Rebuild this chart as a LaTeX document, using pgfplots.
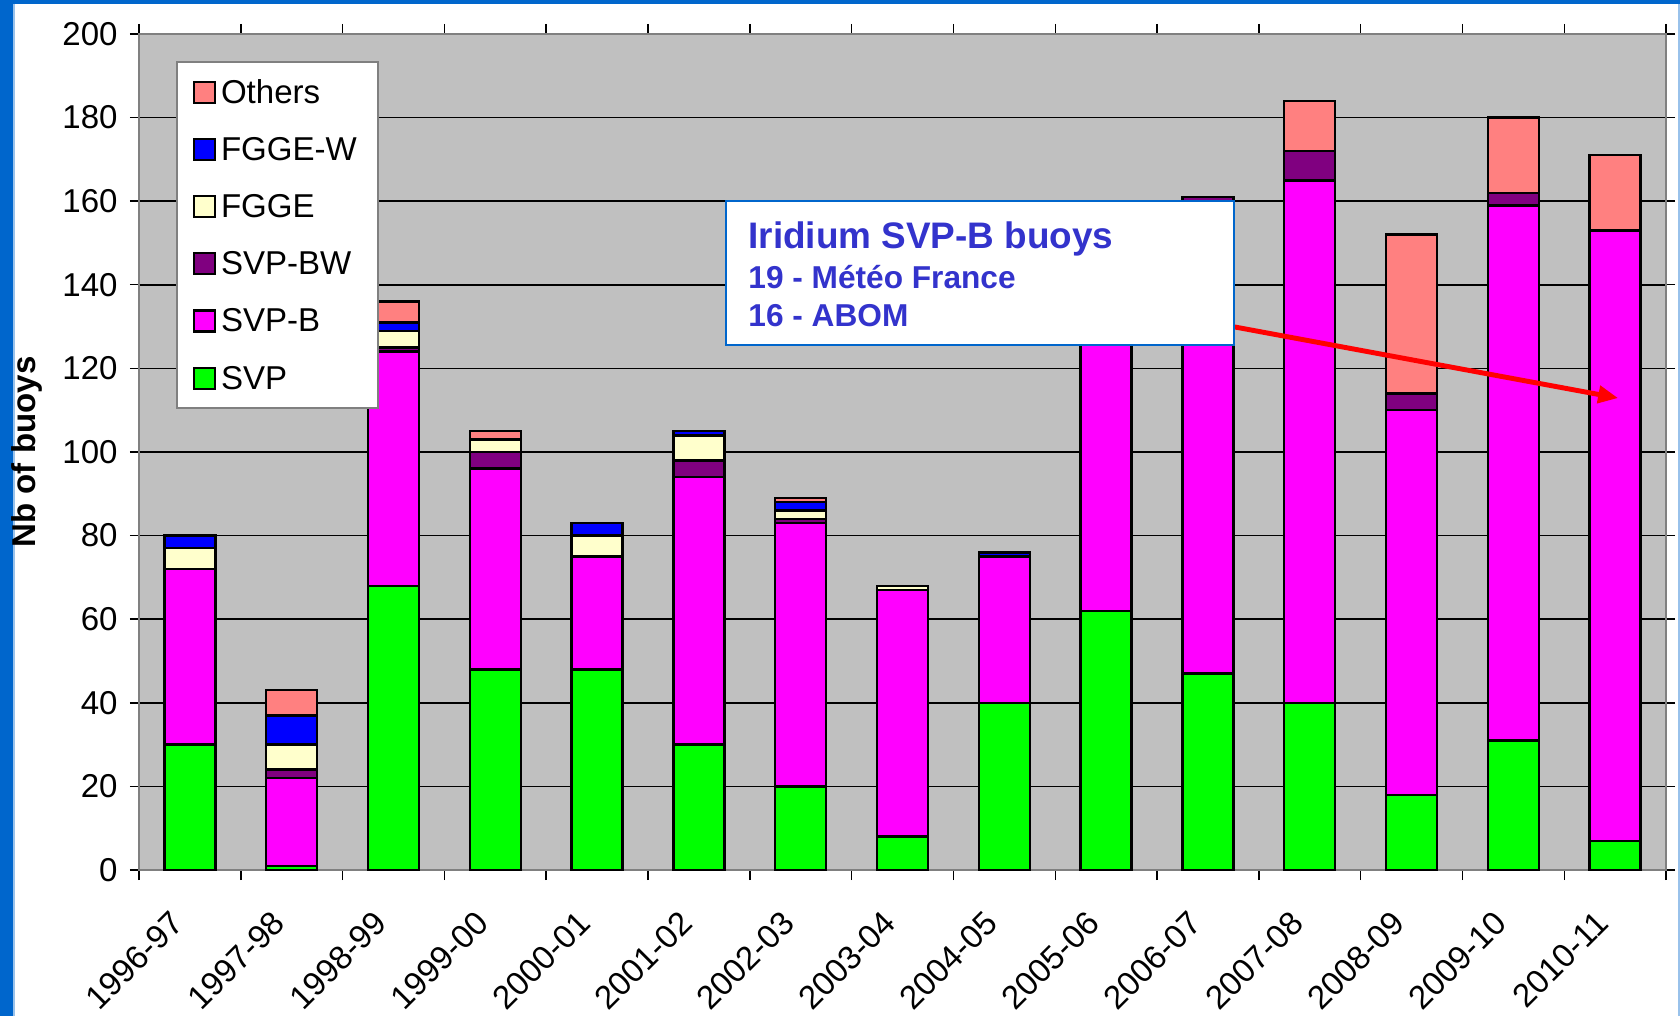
\documentclass[border=0pt]{standalone}
\usepackage{pgfplots}
\pgfplotsset{compat=1.18}
\usepackage{fontspec}
\setmainfont{Liberation Sans}
\usetikzlibrary{arrows.meta}

\definecolor{slideblue}{RGB}{0,102,204}
\definecolor{plotgray}{RGB}{192,192,192}
\definecolor{framegray}{RGB}{128,128,128}
\definecolor{cSVP}{RGB}{0,255,0}
\definecolor{cSVPB}{RGB}{255,0,255}
\definecolor{cSVPBW}{RGB}{128,0,128}
\definecolor{cFGGE}{RGB}{255,255,204}
\definecolor{cFGGEW}{RGB}{0,0,255}
\definecolor{cOthers}{RGB}{255,128,128}
\definecolor{notetext}{RGB}{51,51,204}

\begin{document}
\begin{tikzpicture}
\fill[white] (0,0) rectangle (16.8,10.16);
\fill[slideblue] (0,0) rectangle (0.125,10.16);
\fill[slideblue] (0,10.12) rectangle (16.8,10.16);
\draw[slideblue!40, line width=0.4pt] (0.14,0) -- (0.14,10.12);
\draw[slideblue!40, line width=0.4pt] (16.79,0) -- (16.79,10.12);

\begin{axis}[
    at={(1.39cm,1.46cm)}, anchor=south west,
    scale only axis,
    width=15.27cm, height=8.36cm,
    ybar stacked,
    bar width=0.5,
    xmin=-0.5, xmax=14.5,
    ymin=0, ymax=200,
    ytick={0,20,...,200},
    xtick={0,...,14},
    xticklabels={1996-97,1997-98,1998-99,1999-00,2000-01,2001-02,2002-03,2003-04,2004-05,2005-06,2006-07,2007-08,2008-09,2009-10,2010-11},
    minor xtick={-0.5,0.5,...,14.5},
    major x tick style={draw=none},
    tick align=outside,
    major tick length=0.09cm,
    minor tick length=0.1cm,
    tick style={black, line width=0.4pt},
    ymajorgrids,
    major grid style={black, line width=0.45pt},
    axis background/.style={fill=plotgray},
    axis line style={draw=framegray, line width=0.7pt},
    font=\fontsize{9.4}{11.3}\selectfont,
    /pgf/number format/assume math mode=true,
    xticklabel style={rotate=45, anchor=north east, inner sep=0pt, xshift=-0.297cm},
    xticklabel shift=0.08cm,
    every axis y label/.style={at={(axis description cs:0,0.5)}, xshift=-1.12cm, rotate=90, anchor=center},
    ylabel={\bfseries Nb of buoys},
    reverse legend,
    legend style={at={(0.0242,0.9677)}, anchor=north west, draw=framegray, fill=white,
        line width=0.5pt, inner xsep=4.6pt, inner ysep=5.2pt, row sep=9.6pt,
        nodes={inner xsep=1.4pt, inner ysep=0pt, text height=6.5pt, text depth=0pt},
        font=\fontsize{9.4}{11.3}\selectfont},
    legend cell align=left,
    legend image code/.code={\draw[#1, draw=black, line width=0.6pt] (0cm,-0.11cm) rectangle (0.21cm,0.10cm);},
    every axis plot/.append style={draw=black, line width=0.7pt},
    clip=false,
]
\addplot[fill=cSVP] coordinates {(0,30) (1,1) (2,68) (3,48) (4,48) (5,30) (6,20) (7,8) (8,40) (9,62) (10,47) (11,40) (12,18) (13,31) (14,7)};
\addplot[fill=cSVPB] coordinates {(0,42) (1,21) (2,56) (3,48) (4,27) (5,64) (6,63) (7,59) (8,35) (9,80) (10,113) (11,125) (12,92) (13,128) (14,146)};
\addplot[fill=cSVPBW] coordinates {(0,0) (1,2) (2,1) (3,4) (4,0) (5,4) (6,1) (7,0) (8,0) (9,0) (10,1) (11,7) (12,4) (13,3) (14,0)};
\addplot[fill=cFGGE] coordinates {(0,5) (1,6) (2,4) (3,3) (4,5) (5,6) (6,2) (7,1) (8,0) (9,0) (10,0) (11,0) (12,0) (13,0) (14,0)};
\addplot[fill=cFGGEW] coordinates {(0,3) (1,7) (2,2) (3,0) (4,3) (5,1) (6,2) (7,0) (8,1) (9,0) (10,0) (11,0) (12,0) (13,0) (14,0)};
\addplot[fill=cOthers] coordinates {(0,0) (1,6) (2,5) (3,2) (4,0) (5,0) (6,1) (7,0) (8,0) (9,0) (10,0) (11,12) (12,38) (13,18) (14,18)};
\legend{SVP,SVP-B,SVP-BW,FGGE,FGGE-W,Others}

\coordinate (arrS) at (axis cs:10.0,131.1);
\coordinate (arrE) at (axis cs:14.03,112.9);
\coordinate (boxA) at (axis cs:5.27,125.6);
\coordinate (boxB) at (axis cs:10.26,160);
\coordinate (t1) at (axis cs:5.48,148.7);
\coordinate (t2) at (axis cs:5.48,139.2);
\coordinate (t3) at (axis cs:5.48,130.0);
\end{axis}

% annotation on top of the bars
\draw[red, line width=1.4pt, -{Triangle[length=0.2cm, width=0.17cm]}] (arrS) -- (arrE);
\draw[slideblue, fill=white, line width=0.6pt] (boxA) rectangle (boxB);
\node[anchor=base west, inner sep=0pt, text=notetext, font=\bfseries\fontsize{10.5}{12}\selectfont]
    at (t1) {Iridium SVP-B buoys};
\node[anchor=base west, inner sep=0pt, text=notetext, font=\bfseries\fontsize{9}{10.8}\selectfont]
    at (t2) {19 - Météo France};
\node[anchor=base west, inner sep=0pt, text=notetext, font=\bfseries\fontsize{9}{10.8}\selectfont]
    at (t3) {16 - ABOM};

\pgfresetboundingbox
\useasboundingbox (0,0) rectangle (16.8,10.16);
\end{tikzpicture}
\end{document}
